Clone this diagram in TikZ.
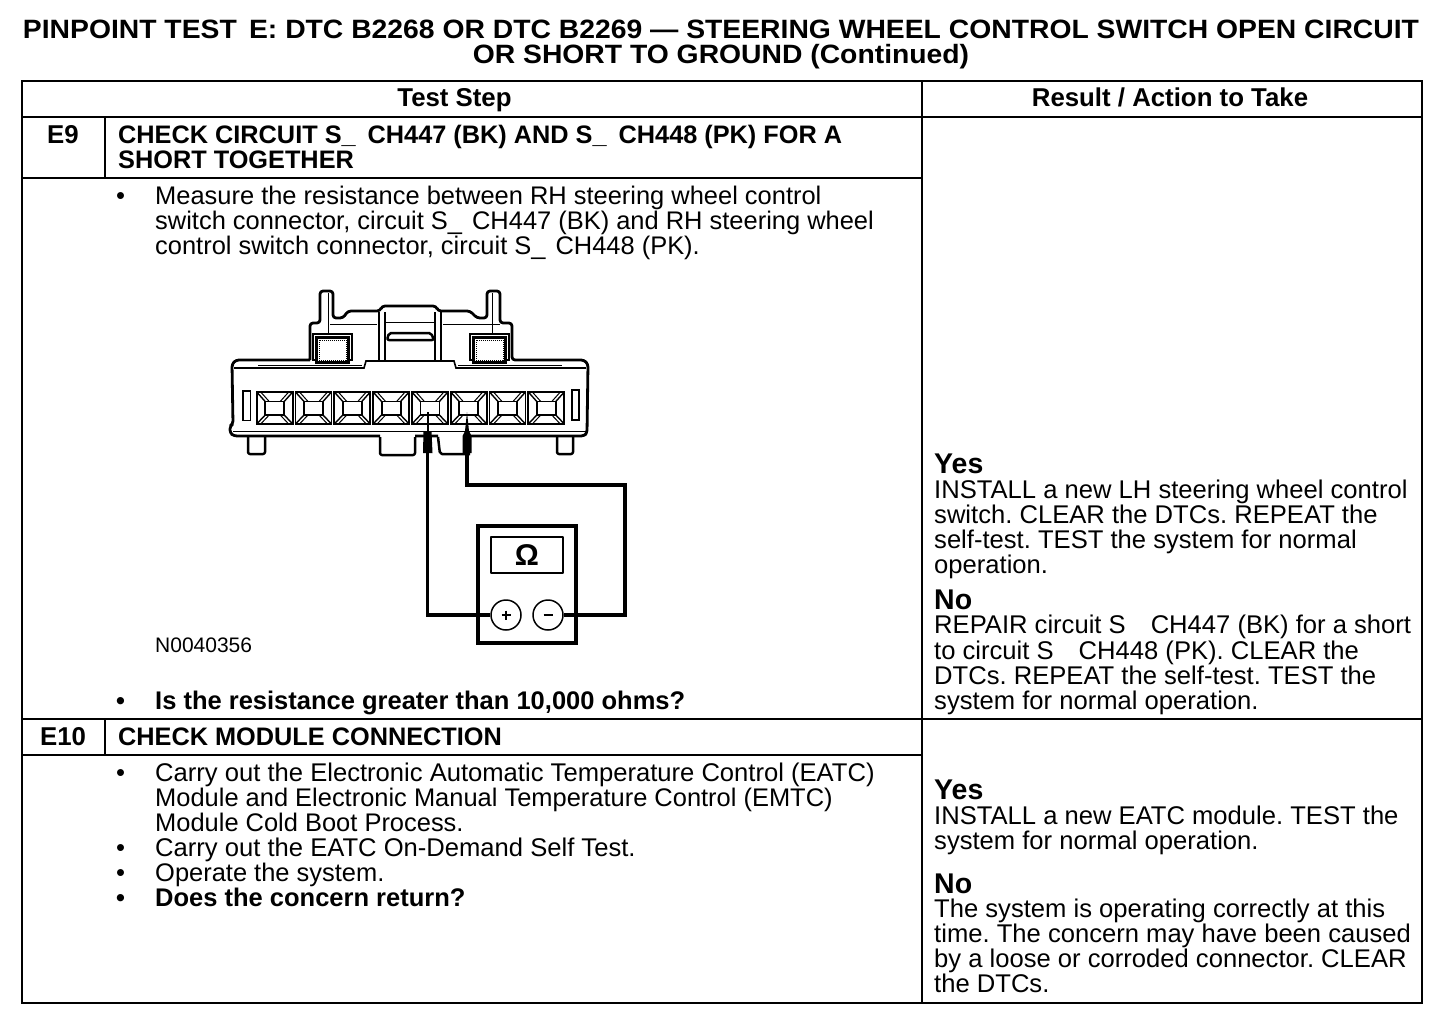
\documentclass[tikz,border=0pt]{standalone}
\usepackage{fontspec}
\setmainfont{Liberation Sans}
\newfontfamily\ttlfont[FakeStretch=1.068]{Liberation Sans}
\frenchspacing
\usetikzlibrary{calc}
\tikzset{
 txt/.style={anchor=base west,inner sep=0pt,font=\fontsize{25.6}{25.6}\selectfont},
 txs/.style={anchor=base west,inner sep=0pt,font=\fontsize{25.45}{25.45}\selectfont},
 hd/.style={anchor=base west,inner sep=0pt,font=\fontsize{25.3}{25.3}\selectfont\bfseries},
 hdl/.style={anchor=base west,inner sep=0pt,font=\fontsize{25.5}{25.5}\selectfont\bfseries},
 ctr/.style={anchor=base,inner sep=0pt,font=\fontsize{25.8}{25.8}\selectfont\bfseries},
 ttl/.style={anchor=base,inner sep=0pt,font=\ttlfont\fontsize{26.5}{26.5}\selectfont\bfseries},
 big/.style={anchor=base west,inner sep=0pt,font=\fontsize{28.5}{28.5}\selectfont\bfseries},
 rule/.style={line width=2pt},
 cn/.style={line width=2.5pt,line join=round},
 cnt/.style={line width=1pt},
 wire/.style={line width=3.2pt,line join=miter},
 term/.style={circle,draw,line width=1.5pt,minimum size=30pt,inner sep=0pt,fill=white},
}
\begin{document}
\begin{tikzpicture}[x=1pt,y=-1pt]
\useasboundingbox (0,0) rectangle (1456,1022);
% title
\node[ttl] (title1) at (721,39) {PINPOINT TEST\, E: DTC B2268 OR DTC B2269 — STEERING WHEEL CONTROL SWITCH OPEN CIRCUIT};
\node[ttl] (title2) at (721,64) {OR SHORT TO GROUND (Continued)};
% table
\draw[rule] (22,81) rectangle (1422,1003);
\draw[rule] (22,117) -- (1422,117);
\draw[rule] (922,81) -- (922,1003);
\draw[rule] (105,117) -- (105,178);
\draw[rule] (22,178) -- (922,178);
\draw[rule] (22,719) -- (1422,719);
\draw[rule] (105,719) -- (105,755);
\draw[rule] (22,755) -- (922,755);
\node[ctr] (hA) at (454.5,107) {Test Step};
\node[ctr] (hB) at (1170,107) {Result / Action to Take};
\node[ctr] (e9) at (63,143) {E9};
\node[ctr] (e10) at (63,745) {E10};
\node[hd] (a1) at (118,143) {CHECK CIRCUIT S\_\hspace{12pt}CH447 (BK) AND S\_\hspace{12pt}CH448 (PK) FOR A};
\node[hd] (a2) at (118,168) {SHORT TOGETHER};
\node[txt] (b0) at (116,204) {•};
\node[txs] (b1) at (155,204) {Measure the resistance between RH steering wheel control};
\node[txs] (b2) at (155,229) {switch connector, circuit S\_\hspace{10pt}CH447 (BK) and RH steering wheel};
\node[txs] (b3) at (155,254) {control switch connector, circuit S\_\hspace{10pt}CH448 (PK).};
\node[anchor=base west,inner sep=0pt,font=\fontsize{21}{21}\selectfont] (code) at (155,652) {N0040356};
\node[hd] (q0) at (116,709) {•};
\node[hdl] (q1) at (155,709) {Is the resistance greater than 10,000 ohms?};
\node[hd] (c1) at (118,745) {CHECK MODULE CONNECTION};
\node[txt] (d0) at (116,781) {•};
\node[txt] (d1) at (155,781) {Carry out the Electronic Automatic Temperature Control (EATC)};
\node[txs] (d2) at (155,806) {Module and Electronic Manual Temperature Control (EMTC)};
\node[txs] (d3) at (155,831) {Module Cold Boot Process.};
\node[txt] (d4) at (116,856) {•};
\node[txt] (d5) at (155,856) {Carry out the EATC On-Demand Self Test.};
\node[txt] (d6) at (116,881) {•};
\node[txs] (d7) at (155,881) {Operate the system.};
\node[hd] (d8) at (116,906) {•};
\node[hdl] (d9) at (155,906) {Does the concern return?};
% right column
\node[big] (y1) at (934,473) {Yes};
\node[txt] (y1a) at (934,498) {INSTALL a new LH steering wheel control};
\node[txt] (y1b) at (934,523) {switch. CLEAR the DTCs. REPEAT the};
\node[txt] (y1c) at (934,548) {self-test. TEST the system for normal};
\node[txt] (y1d) at (934,573) {operation.};
\node[big] (n1) at (934,609) {No};
\node[txt] (n1a) at (934,633) {REPAIR circuit S\hspace{25pt}CH447 (BK) for a short};
\node[txt] (n1b) at (934,659) {to circuit S\hspace{25pt}CH448 (PK). CLEAR the};
\node[txt] (n1c) at (934,684) {DTCs. REPEAT the self-test. TEST the};
\node[txt] (n1d) at (934,709) {system for normal operation.};
\node[big] (y2) at (934,799) {Yes};
\node[txt] (y2a) at (934,824) {INSTALL a new EATC module. TEST the};
\node[txt] (y2b) at (934,849) {system for normal operation.};
\node[big] (n2) at (934,893) {No};
\node[txt] (n2a) at (934,917) {The system is operating correctly at this};
\node[txt] (n2b) at (934,942) {time. The concern may have been caused};
\node[txt] (n2c) at (934,967) {by a loose or corroded connector. CLEAR};
\node[txt] (n2d) at (934,992) {the DTCs.};
% connector outline
\draw[line width=2.8pt,line join=round,rounded corners=3pt]
 (310,360) -- (236,360) -- (232,364) -- (233,424) -- (230,426) -- (230,433) -- (234,436) -- (380,436)
 (415,436) -- (438,436)
 (470,436) -- (584,436) -- (587,433) -- (588,364) -- (584,360) -- (512,360) -- (512,323) -- (500,323) -- (500,291) -- (487,291) -- (487,318) -- (477,318) -- (470,311) -- (438,311) -- (436,306) -- (382,306) -- (380,311) -- (348,311) -- (343,318) -- (333,318) -- (333,291) -- (320,291) -- (320,323) -- (310,323) -- (310,360);
\draw[line width=1.6pt] (234,368) -- (364,368) -- (366,361) -- (454,361) -- (456,368) -- (586,368);
\draw[cnt] (258,365) -- (362,365);
\draw[cnt] (458,365) -- (562,365);
\draw[cnt] (233,431) -- (587,431);
% latch
\draw[cn,line width=2pt] (379,312) -- (379,360) (385,312) -- (385,360) (435,312) -- (435,360) (441,312) -- (441,360);
\draw[cnt] (385,322) -- (436,322);
\draw[cn,rounded corners=2pt] (387,340) -- (389,333) -- (431,333) -- (434,340) -- cycle;
\draw[cnt] (328,293) -- (328,333) (492,293) -- (492,333);
\draw[cnt] (330,324) -- (377,324) (443,324) -- (500,324);
% windows
\foreach \wx in {313,470}{
 \draw[line width=1.5pt] (\wx,334) rectangle +(39,26);
 \draw[line width=3pt,fill=white] (\wx+3.5,337.5) rectangle +(32,25);
 \draw[line width=1pt,densely dotted] (\wx+6,340) rectangle +(27,20);
}
% cells
\foreach \i in {0,...,7}{
 \pgfmathsetmacro{\xa}{256.7+38.8*\i}
 \draw[line width=1.8pt] (\xa,392) rectangle +(36,32);
 \draw[line width=1.8pt] (\xa+8.5,401.5) rectangle +(19,13.5);
 \draw[line width=1.4pt] (\xa,392) -- +(8.5,9.5) (\xa+36,392) -- +(-8.5,9.5) (\xa,424) -- +(8.5,-9) (\xa+36,424) -- +(-8.5,-9);
 \draw[cnt] (\xa+4,392) -- +(8.5,9.5) (\xa+32,424) -- +(-8.5,-9) (\xa+4,424) -- +(8.5,-9) (\xa+32,392) -- +(-8.5,9.5);
}
\draw[line width=1.8pt] (243,391) rectangle (250.5,420.5);
\draw[line width=1.8pt] (572,390) rectangle (579,420);
% tabs
\draw[cn,rounded corners=2pt] (248,437) -- (248,454) -- (265,454) -- (265,437);
\draw[cn,rounded corners=2pt] (557,437) -- (557,454) -- (573,454) -- (573,437);
\draw[cn,rounded corners=2pt] (380,437) -- (380,455) -- (415,455) -- (415,437);
\draw[cn,rounded corners=2pt] (438,437) -- (440,454) -- (470,454);
% probes
\coordinate (pL) at (427.5,453);
\coordinate (pR) at (467,453);
\fill (426.5,412) rectangle (428.5,431);
\fill (423.5,431) -- (431.5,431) -- (432.5,453) -- (423,453) -- cycle;
\fill (467,412) -- (469,431) -- (471.5,436) -- (471.5,453) -- (462.5,453) -- (462.5,436) -- (465,431) -- cycle;
% meter
\draw[wire] (478,526) rectangle (576,643);
\draw[cn] (491,537) rectangle (563,573);
\node[font=\fontsize{30}{30}\selectfont\bfseries,inner sep=0pt] (om) at (527,555) {Ω};
\node[term] (plus) at (506,615) {};
\node[term] (minus) at (548,615) {};
\draw[line width=2.6pt] (501.5,615) -- (510.5,615) (506,610.5) -- (506,619.5);
\draw[line width=2.6pt] (543.5,615) -- (552.5,615);
\coordinate (rc) at (625,485);
\draw[wire] (pL) |- (plus.west);
\draw[wire] (pR) |- (rc) |- (minus.east);
\end{tikzpicture}
\end{document}
